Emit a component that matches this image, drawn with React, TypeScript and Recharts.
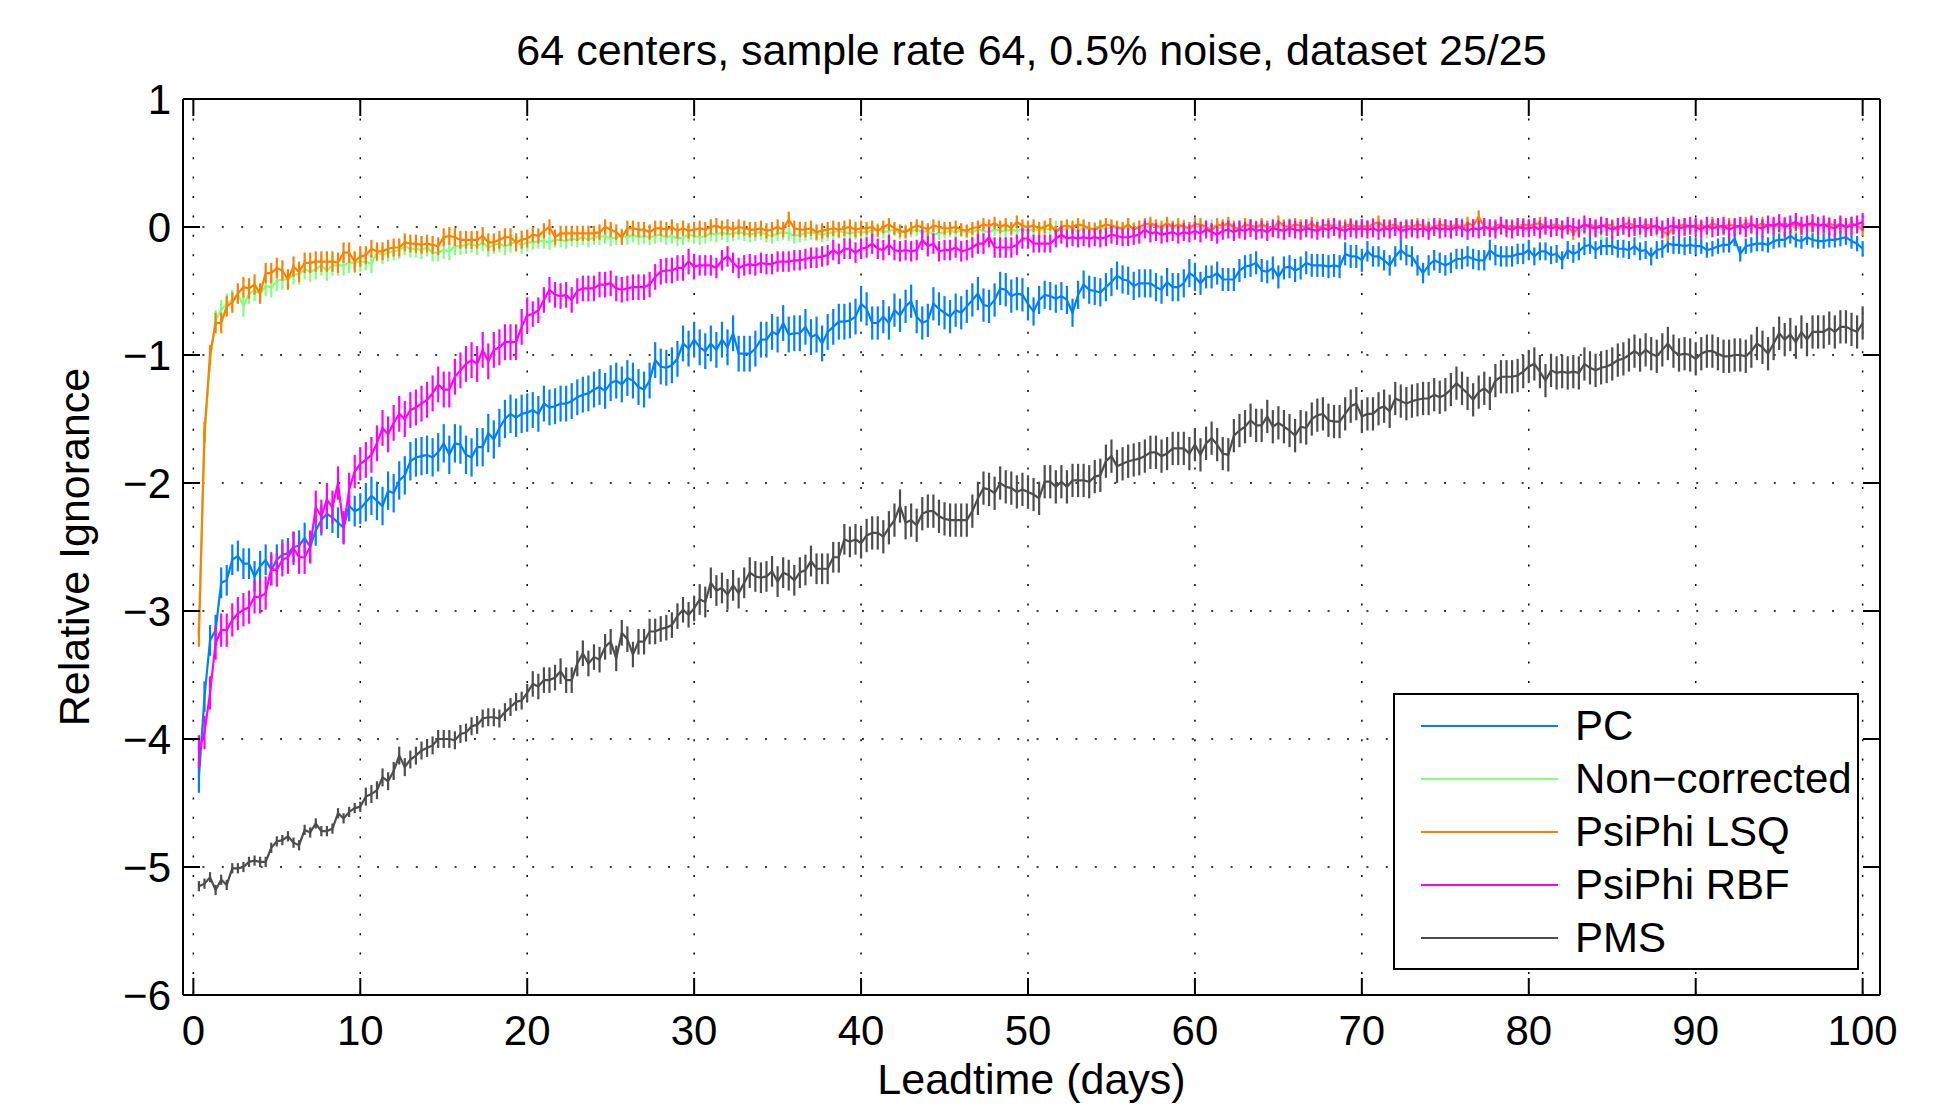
import { LineChart, Line, XAxis, YAxis, CartesianGrid, ErrorBar, Legend } from 'recharts';

const FONT = "'Liberation Sans', Arial, Helvetica, sans-serif";

const W = 1957;
const H = 1106;
const PLOT = { left: 183, top: 99, right: 1880, bottom: 995 };

const xTicks = [0, 10, 20, 30, 40, 50, 60, 70, 80, 90, 100];
const yTicks = [-6, -5, -4, -3, -2, -1, 0, 1];

const title = '64 centers, sample rate 64, 0.5% noise, dataset 25/25';
const xLabel = 'Leadtime (days)';
const yLabel = 'Relative Ignorance';

// one point every 1/3 day, 30 values per 10 days
const days = Array.from({ length: 300 }, (_, i) => +((i + 1) / 3).toFixed(3));

const pc = [
  -4.3, -3.67, -3.23, -3.15, -2.78, -2.76, -2.6, -2.57, -2.63, -2.63,
  -2.73, -2.65, -2.6, -2.68, -2.6, -2.56, -2.55, -2.5, -2.49, -2.43,
  -2.5, -2.37, -2.29, -2.24, -2.27, -2.31, -2.35, -2.18, -2.22, -2.2,
  -2.15, -2.1, -2.14, -2.18, -2.06, -2.08, -1.98, -1.94, -1.83, -1.8,
  -1.79, -1.78, -1.8, -1.76, -1.69, -1.78, -1.69, -1.7, -1.78, -1.8,
  -1.72, -1.72, -1.61, -1.66, -1.57, -1.5, -1.46, -1.49, -1.46, -1.45,
  -1.43, -1.46, -1.38, -1.41, -1.4, -1.38, -1.38, -1.36, -1.33, -1.31,
  -1.3, -1.27, -1.25, -1.28, -1.22, -1.2, -1.23, -1.18, -1.2, -1.25,
  -1.27, -1.2, -1.04, -1.09, -1.1, -1.08, -1.03, -0.91, -0.95, -0.88,
  -0.94, -0.97, -0.91, -0.96, -0.88, -0.94, -0.83, -0.99, -0.99, -0.99,
  -0.95, -0.88, -0.88, -0.82, -0.84, -0.75, -0.84, -0.83, -0.83, -0.78,
  -0.86, -0.84, -0.91, -0.82, -0.78, -0.74, -0.74, -0.73, -0.7, -0.6,
  -0.64, -0.75, -0.75, -0.7, -0.75, -0.65, -0.69, -0.62, -0.58, -0.7,
  -0.75, -0.73, -0.6, -0.64, -0.67, -0.7, -0.65, -0.67, -0.62, -0.57,
  -0.52, -0.61, -0.62, -0.57, -0.48, -0.49, -0.54, -0.52, -0.53, -0.6,
  -0.66, -0.57, -0.53, -0.54, -0.56, -0.54, -0.57, -0.67, -0.53, -0.45,
  -0.49, -0.5, -0.51, -0.47, -0.43, -0.38, -0.41, -0.42, -0.46, -0.44,
  -0.44, -0.44, -0.47, -0.49, -0.43, -0.47, -0.47, -0.44, -0.36, -0.39,
  -0.44, -0.39, -0.39, -0.36, -0.41, -0.41, -0.41, -0.34, -0.31, -0.3,
  -0.28, -0.34, -0.35, -0.32, -0.39, -0.32, -0.31, -0.34, -0.32, -0.28,
  -0.3, -0.3, -0.3, -0.31, -0.3, -0.31, -0.21, -0.23, -0.23, -0.26,
  -0.19, -0.23, -0.23, -0.26, -0.3, -0.23, -0.18, -0.22, -0.23, -0.3,
  -0.36, -0.3, -0.26, -0.28, -0.3, -0.28, -0.25, -0.25, -0.23, -0.25,
  -0.26, -0.26, -0.18, -0.22, -0.23, -0.23, -0.23, -0.21, -0.21, -0.18,
  -0.23, -0.19, -0.19, -0.22, -0.21, -0.26, -0.18, -0.21, -0.19, -0.15,
  -0.14, -0.18, -0.15, -0.15, -0.15, -0.17, -0.17, -0.18, -0.15, -0.19,
  -0.18, -0.23, -0.18, -0.17, -0.13, -0.14, -0.14, -0.15, -0.14, -0.15,
  -0.15, -0.18, -0.17, -0.15, -0.14, -0.14, -0.09, -0.21, -0.15, -0.14,
  -0.13, -0.13, -0.14, -0.11, -0.1, -0.1, -0.07, -0.1, -0.11, -0.08,
  -0.1, -0.11, -0.11, -0.1, -0.1, -0.09, -0.08, -0.11, -0.13, -0.17,
];

const nonCorrected = [
  -3.1, -1.65, -1.05, -0.73, -0.65, -0.6, -0.57, -0.52, -0.62, -0.52,
  -0.5, -0.52, -0.46, -0.47, -0.42, -0.41, -0.41, -0.37, -0.37, -0.33,
  -0.35, -0.33, -0.3, -0.34, -0.3, -0.3, -0.3, -0.28, -0.28, -0.27,
  -0.27, -0.29, -0.2, -0.22, -0.2, -0.19, -0.18, -0.15, -0.17, -0.17,
  -0.18, -0.16, -0.2, -0.2, -0.18, -0.19, -0.15, -0.15, -0.14, -0.13,
  -0.15, -0.12, -0.16, -0.14, -0.13, -0.15, -0.13, -0.12, -0.14, -0.12,
  -0.12, -0.11, -0.11, -0.12, -0.1, -0.1, -0.11, -0.09, -0.1, -0.08,
  -0.1, -0.08, -0.08, -0.07, -0.09, -0.08, -0.07, -0.08, -0.06, -0.08,
  -0.07, -0.08, -0.07, -0.06, -0.08, -0.07, -0.09, -0.08, -0.06, -0.07,
  -0.08, -0.07, -0.05, -0.06, -0.04, -0.06, -0.05, -0.04, -0.05, -0.06,
  -0.05, -0.04, -0.06, -0.07, -0.05, -0.04, -0.05, -0.07, -0.06, -0.05,
  -0.04, -0.05, -0.06, -0.05, -0.04, -0.03, -0.04, -0.05, -0.04, -0.04,
  -0.04, -0.03, -0.02, -0.04, -0.03, -0.02, -0.05, -0.03, -0.03, -0.02,
  -0.04, -0.03, -0.06, -0.05, -0.04, -0.03, -0.04, -0.03, -0.04, -0.04,
  -0.02, -0.03, -0.04, -0.02, -0.03, -0.03, -0.02, -0.03, -0.02, -0.03,
  -0.02, -0.03, -0.01, -0.02, 0.0, -0.03, -0.01, -0.01, -0.04, 0.0,
  -0.02, -0.01, 0.01, -0.02, 0.0, -0.01, -0.02, 0.01, -0.01, 0.0,
  -0.01, 0.01, 0.0, -0.02, 0.01, -0.01, 0.0, 0.01, -0.01, 0.0,
  0.0, -0.02, 0.01, 0.0, -0.01, 0.01, -0.02, 0.0, 0.01, 0.0,
  -0.01, 0.01, 0.0, -0.01, 0.01, 0.0, 0.02, 0.0, -0.01, 0.01,
  0.0, 0.01, -0.01, 0.0, 0.02, 0.01, 0.0, -0.01, 0.01, 0.0,
  0.01, 0.0, 0.01, -0.02, 0.0, 0.01, 0.0, 0.01, -0.01, 0.0,
  0.01, 0.02, 0.0, -0.01, 0.01, 0.0, 0.01, 0.02, 0.0, 0.01,
  -0.01, 0.0, 0.01, -0.03, 0.0, 0.01, 0.0, 0.02, 0.01, 0.0,
  0.0, 0.01, 0.02, 0.0, 0.01, 0.0, 0.01, -0.02, -0.04, -0.01,
  0.0, -0.03, -0.05, 0.0, 0.01, 0.0, -0.01, 0.01, 0.0, -0.04,
  0.0, 0.01, -0.03, 0.0, -0.05, 0.0, 0.01, -0.01, 0.0, 0.01,
  0.0, -0.04, 0.01, 0.0, -0.02, 0.01, 0.0, 0.01, 0.0, -0.01,
  0.02, 0.0, 0.01, -0.01, 0.0, 0.02, 0.01, 0.0, -0.02, 0.01,
  0.0, 0.01, 0.02, 0.0, 0.01, 0.03, 0.0, 0.01, 0.0, 0.01,
];

const lsq = [
  -3.2, -1.6, -1.0, -0.75, -0.75, -0.62, -0.59, -0.52, -0.47, -0.48,
  -0.45, -0.52, -0.36, -0.36, -0.32, -0.34, -0.41, -0.31, -0.35, -0.28,
  -0.28, -0.27, -0.27, -0.27, -0.27, -0.28, -0.2, -0.2, -0.27, -0.23,
  -0.22, -0.17, -0.19, -0.19, -0.17, -0.16, -0.16, -0.12, -0.13, -0.13,
  -0.14, -0.13, -0.14, -0.15, -0.08, -0.07, -0.08, -0.1, -0.1, -0.1,
  -0.1, -0.07, -0.12, -0.12, -0.1, -0.08, -0.08, -0.12, -0.1, -0.09,
  -0.06, -0.07, -0.03, 0.0, -0.08, -0.05, -0.05, -0.05, -0.05, -0.05,
  -0.05, -0.05, -0.04, 0.0, -0.02, -0.04, -0.08, -0.01, -0.01, -0.02,
  -0.02, -0.04, -0.01, -0.01, -0.02, 0.0, -0.03, -0.01, -0.03, -0.02,
  -0.01, -0.02, 0.0, 0.01, -0.01, 0.0, -0.02, 0.0, -0.01, -0.02,
  -0.02, -0.01, -0.03, -0.02, 0.0, -0.02, 0.06, -0.01, -0.02, -0.02,
  -0.01, -0.04, -0.03, -0.02, -0.01, -0.02, -0.01, 0.0, -0.02, -0.01,
  -0.01, 0.0, -0.03, 0.0, 0.02, -0.01, -0.03, -0.04, -0.01, 0.01,
  0.0, -0.02, 0.01, 0.0, -0.01, -0.01, 0.0, -0.02, -0.03, -0.01,
  0.0, 0.02, 0.01, 0.03, 0.0, 0.02, -0.01, 0.04, 0.01, 0.0,
  0.01, -0.01, 0.0, 0.02, -0.04, 0.0, 0.01, 0.0, 0.02, 0.01,
  -0.01, -0.02, 0.0, 0.02, 0.01, 0.0, -0.01, 0.02, -0.02, 0.0,
  0.02, 0.03, 0.01, 0.0, 0.03, 0.0, 0.02, 0.0, -0.01, 0.02,
  0.02, 0.0, -0.03, 0.02, 0.01, 0.03, 0.0, -0.02, 0.02, 0.01,
  0.0, 0.02, 0.0, -0.02, 0.04, 0.01, 0.0, 0.02, 0.01, 0.0,
  0.03, -0.01, 0.01, 0.02, 0.0, -0.02, 0.01, 0.02, 0.0, 0.01,
  0.0, 0.02, 0.04, 0.0, 0.01, 0.02, -0.01, 0.01, 0.0, 0.02,
  0.01, -0.01, 0.0, 0.02, 0.01, 0.0, 0.02, -0.01, 0.03, 0.01,
  0.08, 0.0, -0.02, 0.01, 0.02, 0.0, 0.01, -0.01, 0.02, 0.01,
  0.02, 0.03, 0.0, 0.01, 0.02, 0.0, 0.01, -0.05, 0.0, 0.01,
  0.02, 0.0, 0.01, 0.02, 0.01, -0.02, 0.02, 0.03, 0.01, 0.0,
  0.02, 0.01, 0.0, -0.03, -0.06, 0.0, 0.01, 0.02, 0.0, 0.01,
  0.01, 0.0, 0.03, 0.01, 0.0, 0.02, 0.01, 0.0, 0.03, 0.02,
  0.01, 0.03, 0.0, 0.02, 0.01, 0.03, 0.01, 0.02, 0.0, 0.02,
  0.01, 0.02, 0.01, 0.03, 0.01, 0.02, 0.0, 0.03, 0.01, -0.02,
];

const rbf = [
  -4.1, -3.95, -3.64, -3.25, -3.15, -3.15, -3.07, -3.02, -2.99, -2.97,
  -2.89, -2.89, -2.86, -2.67, -2.68, -2.6, -2.58, -2.51, -2.58, -2.58,
  -2.5, -2.19, -2.26, -2.13, -2.19, -2.0, -2.35, -2.05, -1.91, -1.85,
  -1.82, -1.78, -1.69, -1.57, -1.62, -1.53, -1.46, -1.5, -1.43, -1.41,
  -1.38, -1.35, -1.3, -1.23, -1.27, -1.27, -1.17, -1.12, -1.07, -1.04,
  -1.07, -0.96, -1.05, -0.96, -0.94, -0.9, -0.9, -0.9, -0.78, -0.69,
  -0.68, -0.65, -0.57, -0.49, -0.53, -0.54, -0.53, -0.57, -0.5, -0.48,
  -0.48, -0.48, -0.45, -0.45, -0.44, -0.48, -0.49, -0.48, -0.47, -0.47,
  -0.47, -0.45, -0.39, -0.35, -0.34, -0.34, -0.32, -0.32, -0.27, -0.31,
  -0.3, -0.3, -0.3, -0.32, -0.26, -0.23, -0.28, -0.32, -0.3, -0.29,
  -0.3, -0.28, -0.29, -0.29, -0.27, -0.27, -0.27, -0.26, -0.26, -0.25,
  -0.24, -0.24, -0.23, -0.22, -0.18, -0.21, -0.17, -0.17, -0.2, -0.17,
  -0.16, -0.13, -0.17, -0.18, -0.14, -0.18, -0.19, -0.18, -0.19, -0.18,
  -0.1, -0.15, -0.13, -0.19, -0.18, -0.18, -0.16, -0.19, -0.18, -0.16,
  -0.13, -0.13, -0.08, -0.16, -0.16, -0.16, -0.16, -0.14, -0.09, -0.09,
  -0.13, -0.13, -0.13, -0.13, -0.09, -0.06, -0.09, -0.08, -0.09, -0.08,
  -0.09, -0.08, -0.09, -0.08, -0.06, -0.07, -0.08, -0.08, -0.07, -0.06,
  -0.02, -0.05, -0.04, -0.06, -0.05, -0.04, -0.06, -0.04, -0.05, -0.03,
  -0.05, -0.02, -0.04, -0.06, -0.03, -0.02, -0.04, -0.02, -0.03, -0.01,
  -0.03, -0.02, -0.04, -0.01, -0.02, -0.03, -0.01, -0.02, -0.03, -0.01,
  -0.02, -0.03, -0.01, -0.02, 0.0, -0.02, -0.03, -0.01, -0.02, -0.01,
  -0.02, -0.01, -0.03, -0.01, -0.02, 0.0, -0.03, -0.02, -0.01, -0.02,
  -0.01, -0.03, 0.0, -0.02, -0.01, -0.02, 0.0, -0.01, -0.03, -0.01,
  -0.02, 0.0, -0.01, -0.02, 0.01, -0.01, -0.02, 0.0, -0.01, -0.01,
  0.0, -0.02, 0.01, -0.01, 0.0, -0.02, 0.01, 0.0, -0.01, 0.02,
  0.0, -0.01, 0.01, 0.0, -0.02, 0.0, 0.01, -0.01, 0.0, 0.01,
  -0.01, 0.0, 0.01, -0.02, 0.0, 0.01, -0.01, 0.0, 0.01, 0.0,
  -0.02, 0.01, -0.01, 0.0, 0.01, -0.02, 0.0, 0.01, -0.01, 0.02,
  0.0, -0.01, 0.02, 0.01, 0.03, 0.0, 0.02, 0.04, 0.01, 0.02,
  0.03, 0.01, 0.02, 0.0, -0.01, 0.02, 0.0, 0.01, 0.02, 0.04,
];

const pms = [
  -5.15, -5.13, -5.08, -5.18, -5.1, -5.14, -5.01, -5.01, -5.0, -4.96,
  -4.95, -4.96, -4.96, -4.85, -4.8, -4.79, -4.76, -4.81, -4.83, -4.71,
  -4.73, -4.66, -4.72, -4.72, -4.7, -4.58, -4.62, -4.57, -4.54, -4.53,
  -4.45, -4.43, -4.4, -4.3, -4.33, -4.25, -4.13, -4.22, -4.16, -4.13,
  -4.09, -4.07, -4.05, -4.0, -4.0, -4.0, -4.01, -3.96, -3.95, -3.9,
  -3.89, -3.84, -3.83, -3.83, -3.84, -3.79, -3.75, -3.71, -3.7, -3.64,
  -3.57, -3.59, -3.54, -3.54, -3.52, -3.47, -3.54, -3.54, -3.41, -3.33,
  -3.41, -3.36, -3.38, -3.28, -3.24, -3.37, -3.17, -3.22, -3.34, -3.24,
  -3.24, -3.16, -3.16, -3.14, -3.13, -3.11, -3.04, -2.99, -3.03, -2.98,
  -2.91, -2.93, -2.78, -2.84, -2.82, -2.87, -2.8, -2.86, -2.78, -2.7,
  -2.73, -2.74, -2.73, -2.69, -2.77, -2.7, -2.72, -2.76, -2.7, -2.68,
  -2.61, -2.67, -2.67, -2.67, -2.58, -2.58, -2.44, -2.46, -2.44, -2.47,
  -2.41, -2.39, -2.39, -2.42, -2.35, -2.29, -2.18, -2.31, -2.29, -2.33,
  -2.24, -2.22, -2.22, -2.26, -2.28, -2.29, -2.29, -2.29, -2.29, -2.22,
  -2.12, -2.04, -2.05, -2.08, -2.0, -2.03, -2.04, -2.07, -2.05, -2.07,
  -2.09, -2.12, -1.99, -1.99, -2.03, -1.99, -2.03, -1.98, -1.98, -1.98,
  -1.99, -1.95, -1.94, -1.83, -1.79, -1.87, -1.85, -1.83, -1.82, -1.81,
  -1.79, -1.76, -1.76, -1.79, -1.77, -1.73, -1.73, -1.73, -1.77, -1.7,
  -1.78, -1.69, -1.65, -1.7, -1.77, -1.78, -1.63, -1.59, -1.56, -1.51,
  -1.55, -1.55, -1.48, -1.56, -1.53, -1.56, -1.59, -1.63, -1.56, -1.57,
  -1.5, -1.47, -1.46, -1.51, -1.52, -1.52, -1.46, -1.4, -1.38, -1.48,
  -1.46, -1.46, -1.42, -1.4, -1.44, -1.34, -1.36, -1.38, -1.36, -1.35,
  -1.34, -1.34, -1.31, -1.33, -1.31, -1.27, -1.22, -1.26, -1.3, -1.35,
  -1.29, -1.26, -1.3, -1.2, -1.17, -1.17, -1.17, -1.16, -1.13, -1.09,
  -1.07, -1.13, -1.2, -1.12, -1.14, -1.13, -1.14, -1.13, -1.14, -1.07,
  -1.1, -1.12, -1.1, -1.09, -1.07, -1.04, -1.03, -1.0, -0.97, -1.0,
  -0.96, -0.99, -1.01, -0.96, -0.91, -0.97, -1.0, -0.99, -1.0, -1.03,
  -0.99, -0.97, -0.97, -0.99, -1.01, -1.01, -1.0, -1.0, -1.01, -0.97,
  -0.91, -0.94, -0.99, -0.91, -0.83, -0.88, -0.84, -0.9, -0.82, -0.88,
  -0.82, -0.82, -0.82, -0.79, -0.82, -0.78, -0.78, -0.8, -0.82, -0.75,
];

// half-length of the error bars, one value per 10-day block
const pcErr = [0.12, 0.15, 0.14, 0.14, 0.13, 0.11, 0.09, 0.08, 0.07, 0.06];
const ncErr = [0.08, 0.07, 0.06, 0.06, 0.05, 0.05, 0.05, 0.05, 0.05, 0.05];
const lsqErr = [0.08, 0.07, 0.06, 0.06, 0.05, 0.05, 0.05, 0.05, 0.05, 0.05];
const rbfErr = [0.13, 0.14, 0.1, 0.08, 0.08, 0.07, 0.07, 0.07, 0.07, 0.07];
const pmsErr = [0.04, 0.07, 0.1, 0.12, 0.13, 0.13, 0.13, 0.13, 0.13, 0.13];

const series = [
  { key: 'pc', name: 'PC', color: '#0080ff', values: pc, err: pcErr },
  { key: 'nc', name: 'Non\u2212corrected', color: '#80ff80', values: nonCorrected, err: ncErr },
  { key: 'lsq', name: 'PsiPhi LSQ', color: '#ff8000', values: lsq, err: lsqErr },
  { key: 'rbf', name: 'PsiPhi RBF', color: '#ff00ff', values: rbf, err: rbfErr },
  { key: 'pms', name: 'PMS', color: '#4d4d4d', values: pms, err: pmsErr },
];

const rows = days.map((day, i) => {
  const row: Record<string, number> = { day };
  for (const s of series) {
    row[s.key] = s.values[i];
    row[s.key + 'Err'] = s.err[Math.floor(i / 30)];
  }
  return row;
});

const fmt = (v: number) => String(v).replace('-', '\u2212');
const TICK_LEN = 17;
const TICK_FONT = 42;

function BottomTick({ x, y, payload }: any) {
  return (
    <g>
      <line x1={x} y1={y} x2={x} y2={y - TICK_LEN} stroke="#000" strokeWidth={2} />
      <text x={x} y={y + 50} textAnchor="middle" fontSize={TICK_FONT} fontFamily={FONT} fill="#000">
        {fmt(payload.value)}
      </text>
    </g>
  );
}

function LeftTick({ x, y, payload }: any) {
  return (
    <g>
      <line x1={x} y1={y} x2={x + TICK_LEN} y2={y} stroke="#000" strokeWidth={2} />
      <text x={x - 12} y={y} dy="0.36em" textAnchor="end" fontSize={TICK_FONT} fontFamily={FONT} fill="#000">
        {fmt(payload.value)}
      </text>
    </g>
  );
}

function TopTick({ x, y }: any) {
  return <line x1={x} y1={y} x2={x} y2={y + TICK_LEN} stroke="#000" strokeWidth={2} />;
}

function RightTick({ x, y }: any) {
  return <line x1={x} y1={y} x2={x - TICK_LEN} y2={y} stroke="#000" strokeWidth={2} />;
}

function LegendBox({ payload }: any) {
  const items = series.map((s) => {
    const hit = (payload || []).find((p: any) => p.value === s.name);
    return { name: s.name, color: hit ? hit.color : s.color };
  });
  return (
    <div
      style={{
        width: 466,
        height: 277,
        boxSizing: 'border-box',
        border: '2px solid #000',
        background: '#fff',
        position: 'relative',
        fontFamily: FONT,
        fontSize: 42,
        color: '#000',
      }}
    >
      {items.map((it, i) => (
        <div
          key={it.name}
          style={{ position: 'absolute', left: 0, top: 5 + i * 53, height: 52, display: 'flex', alignItems: 'center' }}
        >
          <div style={{ width: 137, height: 2, background: it.color, marginLeft: 26 }} />
          <span style={{ marginLeft: 17, lineHeight: '52px', whiteSpace: 'nowrap' }}>{it.name}</span>
        </div>
      ))}
    </div>
  );
}

export default function App() {
  const axisLine = { stroke: '#000', strokeWidth: 2 };
  const xDomain: [number, number] = [-0.62, 101.04];
  const yDomain: [number, number] = [-6, 1];
  const cx = (PLOT.left + PLOT.right) / 2;
  const cy = (PLOT.top + PLOT.bottom) / 2;

  // axes get 1px of room each, so the margins are 1px smaller
  return (
    <div style={{ position: 'absolute', left: 0, top: 0, width: W, height: H, background: '#fff' }}>
      <LineChart
        width={W}
        height={H}
        data={rows}
        margin={{ top: PLOT.top - 1, left: PLOT.left - 1, right: W - PLOT.right - 1, bottom: H - PLOT.bottom - 1 }}
      >
        <CartesianGrid stroke="#000" strokeWidth={1.5} strokeDasharray="2 17.4" />
        <XAxis
          dataKey="day"
          type="number"
          domain={xDomain}
          ticks={xTicks}
          interval={0}
          allowDataOverflow
          height={1}
          tickSize={0}
          tickMargin={0}
          tickLine={false}
          axisLine={axisLine}
          tick={<BottomTick />}
        />
        <XAxis
          xAxisId="top"
          orientation="top"
          dataKey="day"
          type="number"
          domain={xDomain}
          ticks={xTicks}
          interval={0}
          allowDataOverflow
          height={1}
          tickSize={0}
          tickMargin={0}
          tickLine={false}
          axisLine={axisLine}
          tick={<TopTick />}
        />
        <YAxis
          type="number"
          domain={yDomain}
          ticks={yTicks}
          interval={0}
          allowDataOverflow
          width={1}
          tickSize={0}
          tickMargin={0}
          tickLine={false}
          axisLine={axisLine}
          tick={<LeftTick />}
        />
        <YAxis
          yAxisId="right"
          orientation="right"
          type="number"
          domain={yDomain}
          ticks={yTicks}
          interval={0}
          allowDataOverflow
          width={1}
          tickSize={0}
          tickMargin={0}
          tickLine={false}
          axisLine={axisLine}
          tick={<RightTick />}
        />
        {series.map((s) => (
          <Line
            key={s.key}
            dataKey={s.key}
            name={s.name}
            stroke={s.color}
            strokeWidth={2.2}
            dot={false}
            activeDot={false}
            isAnimationActive={false}
          >
            <ErrorBar
              dataKey={s.key + 'Err'}
              direction="y"
              width={0}
              stroke={s.color}
              strokeWidth={2.2}
              isAnimationActive={false}
            />
          </Line>
        ))}
        <Legend
          layout="vertical"
          align="center"
          verticalAlign="middle"
          wrapperStyle={{ left: 1393, top: 693, width: 466, height: 277, right: 'auto', bottom: 'auto' }}
          content={(props: any) => <LegendBox payload={props.payload} />}
        />
      </LineChart>
      <svg
        width={W}
        height={H}
        style={{ position: 'absolute', left: 0, top: 0, pointerEvents: 'none' }}
        fontFamily={FONT}
      >
        <text x={cx} y={65} textAnchor="middle" fontSize={43} fill="#000">
          {title}
        </text>
        <text x={cx} y={1094} textAnchor="middle" fontSize={43} fill="#000">
          {xLabel}
        </text>
        <text x={89} y={cy} textAnchor="middle" fontSize={43} fill="#000" transform={`rotate(-90 89 ${cy})`}>
          {yLabel}
        </text>
      </svg>
    </div>
  );
}
